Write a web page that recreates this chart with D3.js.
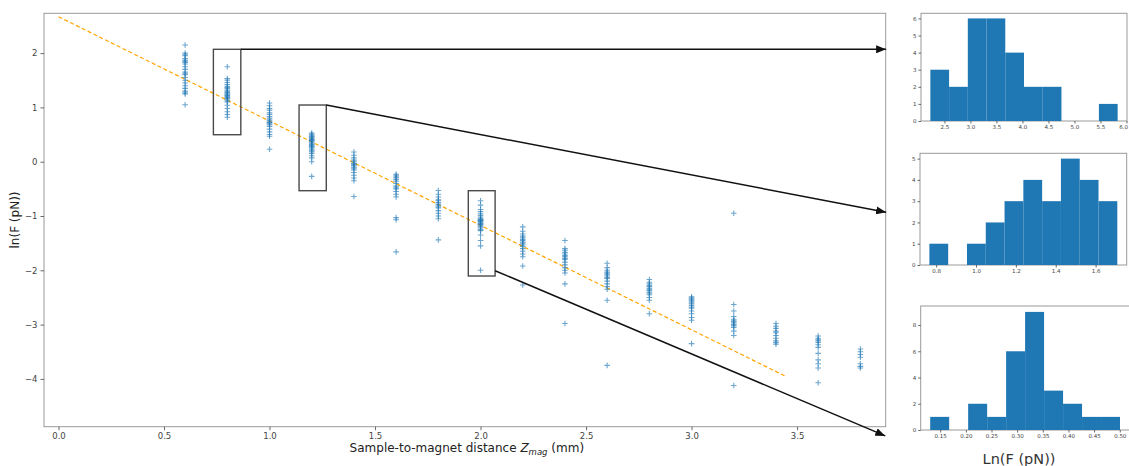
<!DOCTYPE html>
<html><head><meta charset="utf-8">
<script src="https://cdn.jsdelivr.net/npm/d3@7"></script>
<style>
body{margin:0;background:#fff;}
text{font-family:"DejaVu Sans",sans-serif;}
</style></head><body>
<svg id="c" width="1129" height="466"></svg>
<script>
// ---------- DATA ----------
const distances = [0.6,0.8,1.0,1.2,1.4,1.6,1.8,2.0,2.2,2.4,2.6,2.8,3.0,3.2,3.4,3.6,3.8];
const lnF_0_6 = [2.15,2.0,1.97,1.95,1.9,1.87,1.85,1.83,1.8,1.75,1.7,1.65,1.62,1.6,1.55,1.5,1.45,1.4,1.35,1.3,1.27,1.25,1.05];
const lnF_0_8 = [0.82,0.87,0.92,0.98,1.04,1.1,1.12,1.15,1.17,1.18,1.2,1.22,1.23,1.25,1.27,1.28,1.3,1.32,1.35,1.37,1.38,1.42,1.46,1.5,1.53,1.75];
const lnF_1_0 = [1.08,1.03,0.98,0.95,0.9,0.87,0.83,0.8,0.77,0.75,0.73,0.72,0.7,0.68,0.65,0.6,0.55,0.5,0.47,0.23];
const lnF_1_2 = [-0.27,0.0,0.07,0.11,0.15,0.18,0.2,0.22,0.25,0.27,0.28,0.3,0.32,0.34,0.36,0.38,0.39,0.4,0.41,0.43,0.44,0.46,0.47,0.49,0.51,0.53];
const lnF_1_4 = [0.18,0.12,0.07,0.03,0.0,-0.03,-0.05,-0.07,-0.1,-0.12,-0.15,-0.2,-0.25,-0.3,-0.35,-0.64];
const lnF_1_6 = [-0.23,-0.25,-0.28,-0.3,-0.33,-0.36,-0.4,-0.45,-0.48,-0.5,-0.55,-0.6,-0.65,-1.03,-1.07,-1.66];
const lnF_1_8 = [-0.53,-0.6,-0.65,-0.7,-0.72,-0.75,-0.78,-0.8,-0.83,-0.85,-0.9,-0.95,-1.0,-1.05,-1.44];
const lnF_2_0 = [-2.0,-1.55,-1.45,-1.35,-1.27,-1.25,-1.22,-1.2,-1.18,-1.16,-1.15,-1.14,-1.12,-1.1,-1.09,-1.08,-1.07,-1.06,-1.05,-1.02,-0.99,-0.96,-0.92,-0.88,-0.8,-0.72];
const lnF_2_2 = [-1.2,-1.28,-1.33,-1.37,-1.4,-1.43,-1.45,-1.48,-1.5,-1.53,-1.56,-1.6,-1.65,-1.7,-1.75,-1.92,-2.27];
const lnF_2_4 = [-1.45,-1.6,-1.63,-1.67,-1.7,-1.73,-1.75,-1.78,-1.8,-1.85,-1.9,-1.95,-2.0,-2.05,-2.25,-2.98];
const lnF_2_6 = [-1.87,-1.95,-2.0,-2.03,-2.05,-2.07,-2.1,-2.13,-2.15,-2.2,-2.25,-2.3,-2.35,-2.55,-3.75];
const lnF_2_8 = [-2.17,-2.22,-2.25,-2.28,-2.3,-2.33,-2.35,-2.37,-2.4,-2.42,-2.45,-2.5,-2.55,-2.8];
const lnF_3_0 = [-2.49,-2.51,-2.53,-2.55,-2.57,-2.6,-2.62,-2.65,-2.68,-2.7,-2.75,-2.8,-2.87,-2.92,-3.35];
const lnF_3_2 = [-0.95,-2.63,-2.75,-2.85,-2.9,-2.93,-2.95,-2.97,-3.0,-3.02,-3.05,-3.12,-3.2,-4.12];
const lnF_3_4 = [-2.98,-3.03,-3.07,-3.12,-3.15,-3.2,-3.25,-3.3,-3.33,-3.36];
const lnF_3_6 = [-3.21,-3.25,-3.28,-3.3,-3.33,-3.37,-3.42,-3.53,-3.65,-3.72,-3.8,-4.07];
const lnF_3_8 = [-3.45,-3.5,-3.55,-3.6,-3.72,-3.77,-3.8];
const columns = [lnF_0_6,lnF_0_8,lnF_1_0,lnF_1_2,lnF_1_4,lnF_1_6,lnF_1_8,lnF_2_0,lnF_2_2,lnF_2_4,lnF_2_6,lnF_2_8,lnF_3_0,lnF_3_2,lnF_3_4,lnF_3_6,lnF_3_8];

const fitX = [0, 3.45];
const fitY = [2.67, -3.96];

const xTicks = [0,0.5,1.0,1.5,2.0,2.5,3.0,3.5];
const yTicks = [2,1,0,-1,-2,-3,-4];

// highlighted boxes
const boxX0 = [0.734, 1.14, 1.942];
const boxX1 = [0.864, 1.269, 2.069];
const boxYTop = [2.07, 1.044, -0.534];
const boxYBot = [0.497, -0.534, -2.105];
const arrowFromY = [2.07, 1.044, -2.007];
const arrowToX = [3.922, 3.922, 3.918];
const arrowToY = [2.07, -0.93, -5.05];

// histograms (F in pN of the boxed columns)
const h1Start = 2.23, h1Width = 0.36, h1Counts = [3,2,6,6,4,2,2,0,0,1];
const h1XTicks = [2.5,3.0,3.5,4.0,4.5,5.0,5.5,6.0], h1YTicks = [0,1,2,3,4,5,6];
const h2Start = 0.766, h2Width = 0.0943, h2Counts = [1,0,1,2,3,4,3,5,4,3];
const h2XTicks = [0.8,1.0,1.2,1.4,1.6], h2YTicks = [0,1,2,3,4,5];
const h3Start = 0.1305, h3Width = 0.037, h3Counts = [1,0,2,1,6,9,3,2,1,1];
const h3XTicks = [0.15,0.20,0.25,0.30,0.35,0.40,0.45,0.50], h3YTicks = [0,2,4,6,8];

// ---------- DRAW ----------
const svg = d3.select("#c");
const M = {l:44, r:885.7, t:13.3, b:426.7};
const x = d3.scaleLinear().domain([-0.0687, 3.920]).range([M.l, M.r]);
const y = d3.scaleLinear().domain([2.733, -4.880]).range([M.t, M.b]);
const blue = "#1f77b4", spine = "#9a9a9a", tickCol = "#444";

svg.append("rect").attr("x",M.l).attr("y",M.t).attr("width",M.r-M.l).attr("height",M.b-M.t)
  .attr("fill","none").attr("stroke",spine).attr("stroke-width",1);

function styleAxis(g, fs){
  g.select(".domain").remove();
  g.selectAll(".tick line").attr("stroke",tickCol).attr("stroke-width",0.8);
  g.selectAll(".tick text").attr("fill",tickCol).attr("font-size",fs).attr("font-family","DejaVu Sans");
}
const fmtMinus = s => s.replace("-", "\u2212");
svg.append("g").attr("transform",`translate(0,${M.b})`)
  .call(d3.axisBottom(x).tickValues(xTicks).tickFormat(d=>d3.format(".1f")(d)).tickSize(3.5).tickPadding(3))
  .call(g=>styleAxis(g,8.5));
svg.append("g").attr("transform",`translate(${M.l},0)`)
  .call(d3.axisLeft(y).tickValues(yTicks).tickFormat(d=>fmtMinus(String(d))).tickSize(3.5).tickPadding(3))
  .call(g=>styleAxis(g,8.5));

svg.append("path").datum(fitX.map((v,i)=>[v,fitY[i]]))
  .attr("d", d3.line().x(d=>x(d[0])).y(d=>y(d[1])))
  .attr("fill","none").attr("stroke","#ffa500").attr("stroke-width",1.2).attr("stroke-dasharray","4,2.5");

const pts = [];
columns.forEach((col,i)=>col.forEach(v=>pts.push([distances[i],v])));
svg.append("g").selectAll("path").data(pts).join("path")
  .attr("transform",d=>`translate(${x(d[0])},${y(d[1])})`)
  .attr("d","M-2.8,0H2.8M0,-2.8V2.8")
  .attr("stroke",blue).attr("stroke-width",1.1).attr("stroke-opacity",0.65).attr("fill","none");

svg.append("g").selectAll("rect").data(boxX0).join("rect")
  .attr("x",(d,i)=>x(boxX0[i])).attr("y",(d,i)=>y(boxYTop[i]))
  .attr("width",(d,i)=>x(boxX1[i])-x(boxX0[i])).attr("height",(d,i)=>y(boxYBot[i])-y(boxYTop[i]))
  .attr("fill","none").attr("stroke","#4a4a4a").attr("stroke-width",1.4);

svg.append("defs").append("marker").attr("id","ah").attr("viewBox","0 0 10 8")
  .attr("refX",10).attr("refY",4).attr("markerWidth",10).attr("markerHeight",8)
  .attr("markerUnits","userSpaceOnUse").attr("orient","auto")
  .append("path").attr("d","M0,0L10,4L0,8Z").attr("fill","#111");
svg.append("g").selectAll("line").data(boxX1).join("line")
  .attr("x1",(d,i)=>x(boxX1[i])).attr("y1",(d,i)=>y(arrowFromY[i]))
  .attr("x2",(d,i)=>x(arrowToX[i])).attr("y2",(d,i)=>y(arrowToY[i]))
  .attr("stroke","#111").attr("stroke-width",1.5).attr("marker-end","url(#ah)");

const xl = svg.append("text").attr("x",(M.l+M.r)/2+2).attr("y",452).attr("text-anchor","middle")
  .attr("font-size",12).attr("fill","#222");
xl.append("tspan").text("Sample-to-magnet distance ");
xl.append("tspan").attr("font-style","italic").text("Z");
xl.append("tspan").attr("font-style","italic").attr("font-size",8.5).attr("dy",2.5).text("mag");
xl.append("tspan").attr("dy",-2.5).text(" (mm)");
svg.append("text").attr("transform",`translate(19,${(M.t+M.b)/2}) rotate(-90)`)
  .attr("text-anchor","middle").attr("font-size",12).attr("fill","#222").text("ln(F (pN))");

function hist(start, width, counts, xt, yt, box, xfmt){
  const n = counts.length, end = start + width*n, pad = (end-start)*0.05;
  const hx = d3.scaleLinear().domain([start-pad, end+pad]).range([box.l, box.r]);
  const hy = d3.scaleLinear().domain([0, d3.max(counts)*1.05]).range([box.b, box.t]);
  const g = svg.append("g");
  g.append("rect").attr("x",box.l).attr("y",box.t).attr("width",box.r-box.l).attr("height",box.b-box.t)
   .attr("fill","none").attr("stroke",spine).attr("stroke-width",1);
  g.selectAll(".bar").data(counts).join("rect").attr("class","bar")
   .attr("x",(d,i)=>hx(start+i*width)).attr("width",(d,i)=>hx(start+(i+1)*width)-hx(start+i*width))
   .attr("y",d=>hy(d)).attr("height",d=>hy(0)-hy(d)).attr("fill",blue);
  const ax = g.append("g").attr("transform",`translate(0,${box.b})`)
   .call(d3.axisBottom(hx).tickValues(xt).tickFormat(xfmt).tickSize(2.5).tickPadding(2))
   .call(a=>styleAxis(a,5.5));
  // keep edge labels inside the picture
  ax.selectAll(".tick text").each(function(){
    const bb = this.getBBox(), p = this.parentNode.transform.baseVal.consolidate().matrix.e;
    if (p + bb.x + bb.width > 1128) d3.select(this).attr("text-anchor","end").attr("x", 1128 - p);
  });
  g.append("g").attr("transform",`translate(${box.l},0)`)
   .call(d3.axisLeft(hy).tickValues(yt).tickFormat(d3.format("d")).tickSize(2.5).tickPadding(2))
   .call(a=>styleAxis(a,5.5));
}
hist(h1Start,h1Width,h1Counts,h1XTicks,h1YTicks,{l:921,r:1127,t:13.3,b:121},d3.format(".1f"));
hist(h2Start,h2Width,h2Counts,h2XTicks,h2YTicks,{l:920,r:1126.7,t:153.3,b:265},d3.format(".1f"));
hist(h3Start,h3Width,h3Counts,h3XTicks,h3YTicks,{l:920.7,r:1129.5,t:306,b:430},d3.format(".2f"));

svg.append("text").attr("x",1019).attr("y",464).attr("text-anchor","middle")
  .attr("font-size",14.5).attr("fill","#333").text("Ln(F (pN))");
</script></body></html>
